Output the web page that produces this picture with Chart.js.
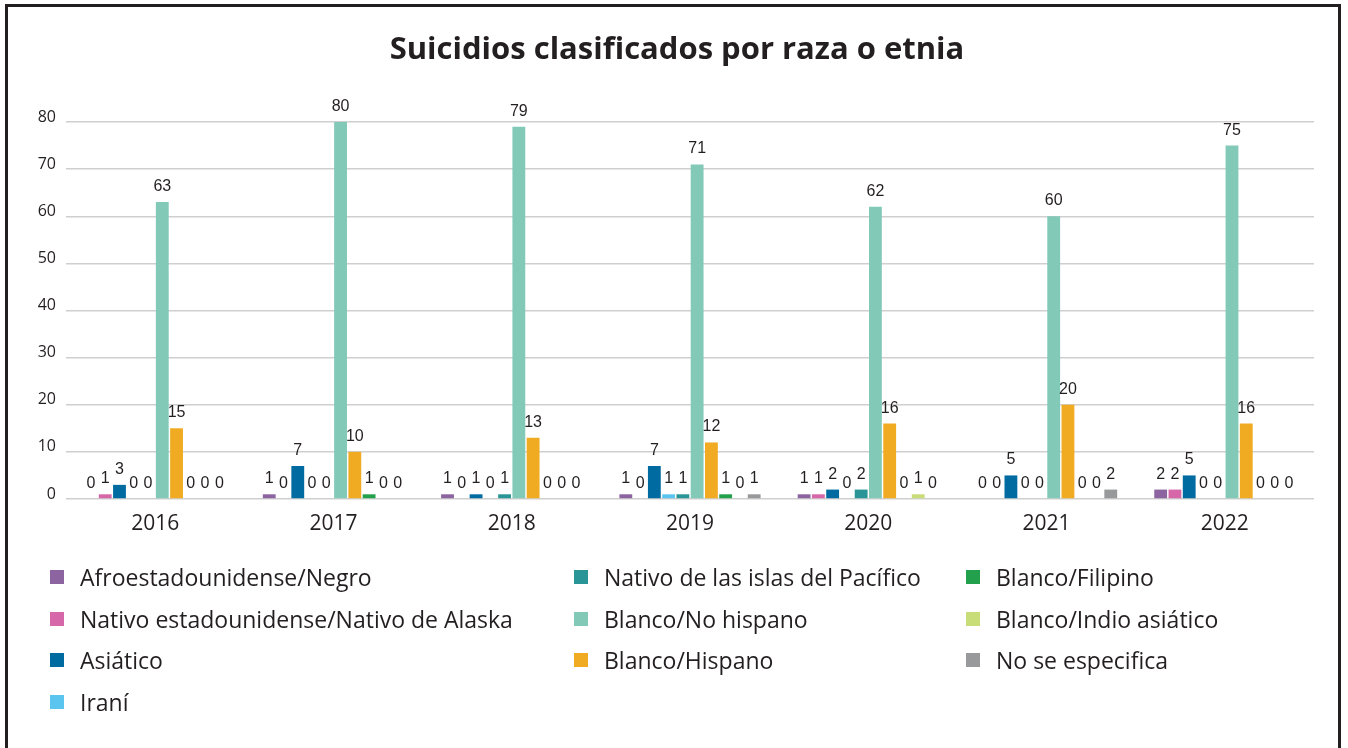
<!DOCTYPE html>
<html lang="es">
<head>
<meta charset="utf-8">
<title>Suicidios clasificados por raza o etnia</title>
<script src="https://cdn.jsdelivr.net/npm/chart.js@4.4.1/dist/chart.umd.min.js"></script>
<style>
  html, body { margin: 0; padding: 0; background: #fff; }
  #wrap { position: relative; width: 1348px; height: 748px; overflow: hidden; }
  #frame {
    position: absolute; left: 5px; top: 4px; width: 1336px; height: 760px;
    border: 3px solid #231f20; box-sizing: border-box;
  }
  #chartBox { position: absolute; left: 0; top: 0; width: 1348px; height: 748px; }
  #chartTitle {
    position: absolute; left: 0; top: 27px; width: 1354px; margin: 0;
    text-align: center; line-height: 40px;
    font-family: "Open Sans", sans-serif; font-size: 31px; font-weight: bold; color: #231f20;
  }
  #legend {
    position: absolute; left: 50px; top: 564px;
    display: grid;
    grid-template-rows: repeat(4, 41.7px);
    grid-template-columns: 524px 392px 360px;
    font-family: "Open Sans", sans-serif; font-size: 23px; color: #231f20;
  }
  .item { display: flex; align-items: center; height: 26px; }
  .swatch { width: 14px; height: 14px; margin-right: 16px; flex: none; }
</style>
</head>
<body>
<div id="wrap">
  <div id="chartBox"><canvas id="raceChart" width="1348" height="748"></canvas></div>
  <h1 id="chartTitle">Suicidios clasificados por raza o etnia</h1>
  <div id="frame"></div>
  <div id="legend"></div>
</div>
<script>
const years = ['2016', '2017', '2018', '2019', '2020', '2021', '2022'];

const seriesNames = [
  'Afroestadounidense/Negro',
  'Nativo estadounidense/Nativo de Alaska',
  'Asiático',
  'Iraní',
  'Nativo de las islas del Pacífico',
  'Blanco/No hispano',
  'Blanco/Hispano',
  'Blanco/Filipino',
  'Blanco/Indio asiático',
  'No se especifica'
];

const seriesColors = [
  '#8b64a0', '#d667a8', '#006ba1', '#5bc5f0', '#2a9596',
  '#82c9b8', '#f0ab22', '#22a04b', '#c8dc78', '#98999b'
];

// one array per group, values by year
const afro        = [0, 1, 1, 1, 1, 0, 2];
const nativoEst   = [1, 0, 0, 0, 1, 0, 2];
const asiatico    = [3, 7, 1, 7, 2, 5, 5];
const irani       = [0, 0, 0, 1, 0, 0, 0];
const pacifico    = [0, 0, 1, 1, 2, 0, 0];
const noHispano   = [63, 80, 79, 71, 62, 60, 75];
const hispano     = [15, 10, 13, 12, 16, 20, 16];
const filipino    = [0, 1, 0, 1, 0, 0, 0];
const indio       = [0, 0, 0, 0, 1, 0, 0];
const noEspecif   = [0, 0, 0, 1, 0, 2, 0];

const yTicks = [0, 10, 20, 30, 40, 50, 60, 70, 80];

// legend columns: 4 entries, then 3, then 3
const legendColumns = [4, 3, 3];

const seriesValues = [afro, nativoEst, asiatico, irani, pacifico,
                      noHispano, hispano, filipino, indio, noEspecif];

const textColor = '#231f20';

// value labels above every bar, zeros included
const barLabels = {
  id: 'barLabels',
  afterDatasetsDraw(chart) {
    const ctx = chart.ctx;
    ctx.save();
    ctx.font = '16px "Liberation Sans Narrow", "Arial Narrow", sans-serif';
    ctx.fillStyle = textColor;
    ctx.textAlign = 'center';
    ctx.textBaseline = 'alphabetic';
    chart.data.datasets.forEach((ds, i) => {
      chart.getDatasetMeta(i).data.forEach((bar, j) => {
        ctx.fillText(String(ds.data[j]), bar.x, bar.y - 11);
      });
    });
    ctx.restore();
  }
};

const ctx = document.getElementById('raceChart').getContext('2d');
const chart = new Chart(ctx, {
  type: 'bar',
  data: {
    labels: years,
    datasets: seriesNames.map((name, i) => ({
      label: name,
      data: seriesValues[i],
      backgroundColor: seriesColors[i],
      borderWidth: 0,
      categoryPercentage: 0.8,
      barPercentage: 0.9
    }))
  },
  options: {
    responsive: false,
    animation: false,
    layout: { padding: { left: 14, right: 34, top: 122, bottom: 209 } },
    plugins: {
      legend: { display: false },
      tooltip: { enabled: false },
      title: { display: false }
    },
    scales: {
      x: {
        grid: { display: false, drawTicks: false },
        border: { display: false },
        ticks: {
          color: textColor,
          padding: 12,
          font: { family: '"Open Sans", sans-serif', size: 21 }
        },
        afterFit(scale) { scale.height = 40; }
      },
      y: {
        min: 0,
        max: 80,
        afterBuildTicks(scale) { scale.ticks = yTicks.map(v => ({ value: v })); },
        grid: { color: '#cfcfcf', lineWidth: 1.5, drawTicks: false },
        border: { display: false },
        ticks: {
          color: textColor,
          padding: 10,
          labelOffset: -5,
          font: { family: '"Open Sans", sans-serif', size: 16 }
        },
        afterFit(scale) { scale.width = 52; }
      }
    }
  },
  plugins: [barLabels]
});

// legend grid, filled column by column
const legendEl = document.getElementById('legend');
let idx = 0;
legendColumns.forEach((count, col) => {
  for (let row = 0; row < count; row++, idx++) {
    const item = document.createElement('div');
    item.className = 'item';
    item.style.gridColumn = String(col + 1);
    item.style.gridRow = String(row + 1);
    const sw = document.createElement('span');
    sw.className = 'swatch';
    sw.style.background = seriesColors[idx];
    const label = document.createElement('span');
    label.textContent = seriesNames[idx];
    item.appendChild(sw);
    item.appendChild(label);
    legendEl.appendChild(item);
  }
});
</script>
</body>
</html>
